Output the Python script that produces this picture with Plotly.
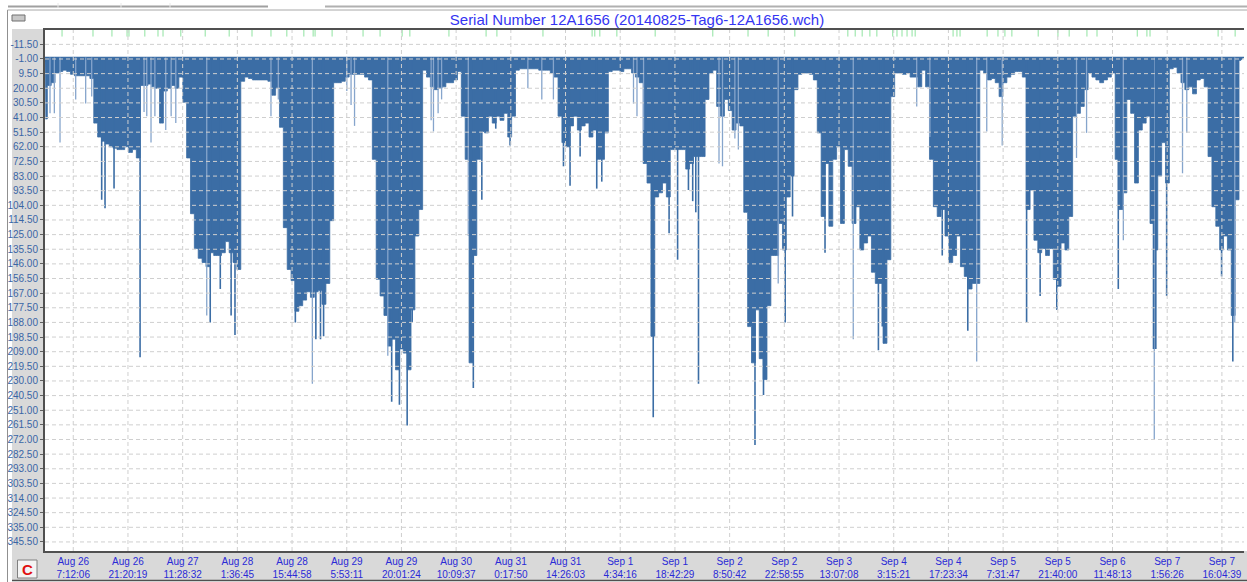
import plotly.graph_objects as go
import pandas as pd

START = pd.Timestamp("2014-08-26 00:00:00")
SURFACE = -2.0
TITLE = "Serial Number 12A1656 (20140825-Tag6-12A1656.wch)"

# maximum depth reached in each hour since START (m)
depth_hourly = [
    42, 18, 16, 9, 8, 7, 8, 10, 11, 11,
    11, 11, 13, 45, 55, 58, 60, 62, 63, 64,
    64, 62, 66, 64, 70, 18, 18, 17, 19, 20,
    45, 22, 20, 18, 20, 12, 30, 70, 110, 135,
    142, 145, 148, 138, 140, 140, 138, 130, 138, 145,
    150, 15, 12, 13, 14, 14, 14, 14, 15, 25,
    20, 48, 120, 150, 158, 180, 176, 172, 166, 170,
    166, 165, 175, 160, 115, 16, 16, 15,
    12, 10, 10, 10, 10, 12, 14, 71, 157, 169,
    183, 205, 200, 222, 207, 210, 222, 179, 126, 107,
    7, 12, 19, 21, 20, 19, 16, 16, 14, 8,
    40, 71, 217, 140, 71, 51, 52, 40, 45, 40,
    43, 38, 55, 40, 7, 6, 6, 6, 6, 6,
    7, 7, 7, 9, 12, 40, 59, 62, 47, 40,
    50, 47, 45, 55, 50, 71, 71, 52, 8, 7,
    7, 8, 6, 6, 9, 12, 16,
    74, 88, 198, 98, 95, 88, 98, 64, 64, 64,
    64, 78, 74, 69, 69, 69, 28, 9, 7, 33,
    40, 28, 36, 50, 45, 47, 109, 191, 217, 179,
    214, 229, 176, 140, 140, 117, 136, 98, 83, 21,
    10, 9, 9, 10, 14, 52, 112, 74, 119, 71,
    62, 117, 64, 76, 117, 105, 136, 131, 126, 152,
    160, 160, 203, 143, 26, 9, 9, 10, 9, 12,
    12, 19, 7, 19, 71, 105, 112, 107,
    126, 145, 140, 126, 148, 155, 164, 160, 160, 7,
    9, 14, 13, 16, 26, 16, 12, 10, 8, 8,
    12, 107, 93, 129, 138, 135, 140, 135, 157, 162,
    131, 136, 112, 40, 38, 33, 21, 9, 12, 14,
    16, 14, 12, 9, 71, 107, 95, 28, 38, 88,
    50, 45, 40, 117, 136, 83, 59, 88, 6, 5,
    9, 16, 21, 19, 24, 14, 13, 19, 69, 105,
    119, 136, 126, 136, 183, 100, 0,
]

# isolated deep dives (hours since START, depth m)
dark_spike_hours = [14.55, 15.41, 17.74, 24.47, 42.6, 45.2, 48.0, 49.0, 64.6, 69.9,
                    71.1, 71.9, 89.5, 91.5, 93.5, 94.8, 110.6, 112.8, 116.4, 120.1,
                    133.9, 135.6, 138.2, 142.5, 143.8, 157.1, 161.2, 163.4, 166.2, 167.3,
                    168.1, 168.8, 183.4, 185.6, 191.2, 193.1, 201.5, 211.0, 215.3, 216.3,
                    216.7, 231.8, 238.4, 253.6, 257.1, 261.4, 277.3, 286.4, 287.0, 289.8,
                    304.0, 306.9]
dark_spike_depths = [100, 106, 92, 213, 188, 164, 183, 197, 188, 200,
                     200, 198, 245, 247, 262, 188, 235, 100, 49, 61,
                     76, 90, 69, 92, 87, 256, 124, 143, 93, 101,
                     109, 232, 276, 240, 188, 112, 138, 136, 208, 191,
                     203, 140, 194, 188, 169, 179, 164, 207, 207, 169,
                     155, 216]
light_spike_hours = [1.19, 2.31, 3.78, 7.83, 10.41, 11.97, 25.5, 26.2, 27.3, 28.3,
                     31.1, 32.5, 33.7, 41.7, 58.3, 60.2, 69.0, 77.9, 79.0, 79.9,
                     88.5, 99.7, 100.3, 101.5, 102.4, 109.3, 124.7, 128.3, 131.3, 152.0,
                     152.9, 154.6, 174.1, 175.0, 178.2, 179.1, 189.4, 208.8, 225.2, 228.6,
                     240.7, 243.3, 247.3, 266.5, 269.1, 278.6, 286.6, 293.9, 295.0, 307.4]
light_spike_depths = [38, 38, 59, 28, 31, 26, 37, 40, 59, 40,
                      50, 40, 45, 183, 40, 28, 232, 22, 32, 47,
                      212, 43, 51, 38, 28, 126, 20, 28, 28, 31,
                      40, 50, 74, 76, 56, 64, 160, 200, 33, 55,
                      216, 51, 61, 70, 52, 129, 272, 81, 52, 188]

# event markers along the top edge (hours since START)
event_hours = [4.3, 12.3, 17.2, 21.1, 21.6, 25.7, 29.1, 30.4, 35.0, 41.3,
               47.5, 53.4, 58.3, 62.4, 66.8, 69.2, 69.7, 74.1, 82.1, 86.5,
               92.2, 94.2, 104.3, 113.9, 116.7, 128.6, 141.3, 142.0, 143.3, 147.7,
               157.6, 172.5, 181.6, 186.8, 193.7, 207.4, 209.3, 211.1, 213.1, 214.9,
               219.0, 220.1, 221.4, 222.7, 224.0, 224.8, 234.6, 235.6, 236.4, 243.4,
               246.2, 248.0, 249.8, 256.6, 261.7, 264.6, 269.2, 271.8, 282.2, 284.7,
               285.5, 303.1, 307.5]

x_tick_dates = ["Aug 26", "Aug 26", "Aug 27", "Aug 28", "Aug 28", "Aug 29", "Aug 29",
                "Aug 30", "Aug 31", "Aug 31", "Sep 1", "Sep 1", "Sep 2", "Sep 2",
                "Sep 3", "Sep 4", "Sep 4", "Sep 5", "Sep 5", "Sep 6", "Sep 7", "Sep 7"]
x_tick_times = ["7:12:06", "21:20:19", "11:28:32", "1:36:45", "15:44:58", "5:53:11",
                "20:01:24", "10:09:37", "0:17:50", "14:26:03", "4:34:16", "18:42:29",
                "8:50:42", "22:58:55", "13:07:08", "3:15:21", "17:23:34", "7:31:47",
                "21:40:00", "11:48:13", "1:56:26", "16:04:39"]
y_tick_labels = ["-11.50", "-1.00", "9.50", "20.00", "30.50", "41.00", "51.50", "62.00",
                 "72.50", "83.00", "93.50", "104.00", "114.50", "125.00", "135.50",
                 "146.00", "156.50", "167.00", "177.50", "188.00", "198.50", "209.00",
                 "219.50", "230.00", "240.50", "251.00", "261.50", "272.00", "282.50",
                 "293.00", "303.50", "314.00", "324.50", "335.00", "345.50"]

# ---------------------------------------------------------------------------
W, H = 1247, 582
ML, MR, MT, MB = 45, 3, 30, 31
PW, PH = W - ML - MR, H - MT - MB


def fx(px):
    return (px - ML) / PW


def fy(py):
    return (H - MB - py) / PH


def at(h):
    return START + pd.Timedelta(hours=h)


FILL = "#3B6DA5"
LIGHT = "#86A5CC"

hours = list(range(len(depth_hourly)))
times = [at(h) for h in hours]
x_start = at(-0.103)
x_end = at(309.79)

fig = go.Figure()
fig.add_trace(go.Scatter(x=[x_start, x_end], y=[SURFACE, SURFACE], mode="lines",
                         line=dict(color=FILL, width=1.5), hoverinfo="skip", showlegend=False))
fig.add_trace(go.Scatter(x=times, y=depth_hourly, mode="lines", line_shape="hvh",
                         line=dict(color=FILL, width=0.8), fill="tonexty", fillcolor=FILL,
                         showlegend=False))


def spike_xy(hs, ds):
    xs, ys = [], []
    for h, d in zip(hs, ds):
        t = at(h)
        xs += [t, t, None]
        ys += [SURFACE, d, None]
    return xs, ys


sx, sy = spike_xy(light_spike_hours, light_spike_depths)
fig.add_trace(go.Scatter(x=sx, y=sy, mode="lines", line=dict(color=LIGHT, width=1.3),
                         showlegend=False, hoverinfo="skip"))
sx, sy = spike_xy(dark_spike_hours, dark_spike_depths)
fig.add_trace(go.Scatter(x=sx, y=sy, mode="lines", line=dict(color=FILL, width=1.6),
                         showlegend=False, hoverinfo="skip"))
fig.add_trace(go.Scatter(x=[at(h) for h in event_hours], y=[-19.6] * len(event_hours),
                         mode="markers", marker=dict(symbol="line-ns", size=5,
                                                     line=dict(color="#8FE3A0", width=1)),
                         cliponaxis=False, showlegend=False, hoverinfo="skip"))

tickvals_x = [pd.to_datetime("2014 " + d + " " + t, format="%Y %b %d %H:%M:%S")
              for d, t in zip(x_tick_dates, x_tick_times)]
ticktext_x = [d + "<br>" + t for d, t in zip(x_tick_dates, x_tick_times)]
tickvals_y = [float(s) for s in y_tick_labels]

shapes = []
# window chrome / panels
shapes.append(dict(type="rect", xref="paper", yref="paper", x0=fx(12), x1=fx(45),
                   y0=fy(580), y1=fy(29), fillcolor="#D9D9D9", line_width=0, layer="below"))
shapes.append(dict(type="rect", xref="paper", yref="paper", x0=fx(12), x1=fx(1247),
                   y0=fy(580), y1=fy(551), fillcolor="#D9D9D9", line_width=0, layer="below"))
shapes.append(dict(type="line", xref="paper", yref="paper", x0=fx(12), x1=fx(1247),
                   y0=fy(580.5), y1=fy(580.5), line=dict(color="#505050", width=1.5)))
shapes.append(dict(type="line", xref="paper", yref="paper", x0=fx(7.5), x1=fx(7.5),
                   y0=fy(582), y1=fy(10), line=dict(color="#909090", width=1)))
shapes.append(dict(type="line", xref="paper", yref="paper", x0=fx(7.5), x1=fx(1247),
                   y0=fy(10), y1=fy(10), line=dict(color="#A8A8A8", width=1)))
shapes.append(dict(type="line", xref="paper", yref="paper", x0=fx(8), x1=fx(268),
                   y0=fy(6.5), y1=fy(6.5), line=dict(color="#A0A0A0", width=2)))
shapes.append(dict(type="line", xref="paper", yref="paper", x0=fx(325), x1=fx(1247),
                   y0=fy(6.5), y1=fy(6.5), line=dict(color="#B0B0B0", width=2)))
for tx in [58, 121, 170]:
    shapes.append(dict(type="line", xref="paper", yref="paper", x0=fx(tx), x1=fx(tx),
                       y0=fy(8), y1=fy(3), line=dict(color="#E8E8E8", width=1)))
shapes.append(dict(type="rect", xref="paper", yref="paper", x0=fx(12), x1=fx(25),
                   y0=fy(21), y1=fy(15), fillcolor="#C8C8C8", line=dict(color="#707070", width=1)))
shapes.append(dict(type="rect", xref="paper", yref="paper", x0=fx(17.5), x1=fx(37),
                   y0=fy(578), y1=fy(560), fillcolor="#F4F4F4", line=dict(color="#808080", width=1)))
# dashed grid drawn over the data
for v in tickvals_y:
    shapes.append(dict(type="line", xref="paper", yref="y", x0=0, x1=1, y0=v, y1=v,
                       line=dict(color="#CFCFCF", width=1, dash="4px,3px"), layer="above"))
for v in tickvals_x:
    shapes.append(dict(type="line", xref="x", yref="paper", x0=v, x1=v, y0=0, y1=1,
                       line=dict(color="#CFCFCF", width=1, dash="4px,3px"), layer="above"))

fig.update_layout(
    width=W, height=H,
    margin=dict(l=ML, r=MR, t=MT, b=MB),
    paper_bgcolor="white", plot_bgcolor="white",
    title=dict(text=TITLE, x=637 / W, y=1 - 20 / H, xanchor="center", yanchor="middle",
               font=dict(family="Liberation Sans, Arial", size=15, color="#3434F2")),
    shapes=shapes,
    annotations=[dict(text="<b>C</b>", xref="paper", yref="paper", x=fx(27.3), y=fy(569),
                      xanchor="center", yanchor="middle", showarrow=False,
                      font=dict(family="Liberation Sans, Arial", size=15, color="#E01010"))],
    xaxis=dict(type="date", range=[x_start, x_end], tickmode="array", tickvals=tickvals_x,
               ticktext=ticktext_x, showgrid=False, zeroline=False, showline=True,
               linecolor="#505050", linewidth=2, mirror=True, ticks="", tickangle=0,
               tickfont=dict(family="Liberation Sans Narrow, Liberation Sans, Arial", size=10,
                             color="#2A2AD6")),
    yaxis=dict(range=[352, -21.8], tickmode="array", tickvals=tickvals_y,
               ticktext=y_tick_labels, showgrid=False, zeroline=False, showline=True,
               linecolor="#505050", linewidth=2, ticks="outside", ticklen=3, tickcolor="#606060",
               tickfont=dict(family="Liberation Sans Narrow, Liberation Sans, Arial", size=10,
                             color="#3A66A6")),
)

fig.write_html(
    "out.html",
    config={"displayModeBar": False},
    post_script="document.body.style.margin='0';document.body.style.padding='0';"
                "document.body.style.overflow='hidden';"
                "document.documentElement.style.overflow='hidden';",
)
